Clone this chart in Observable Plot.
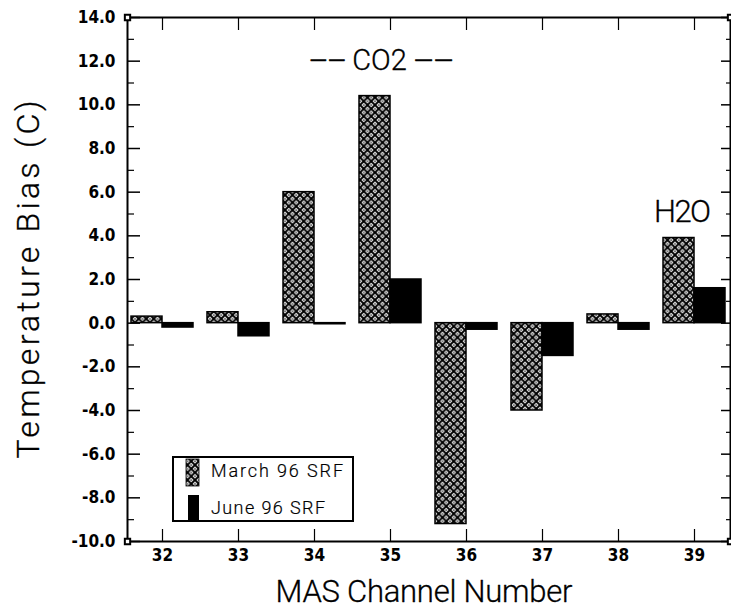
<!DOCTYPE html>
<html><head><meta charset="utf-8">
<script src="https://cdn.jsdelivr.net/npm/d3@7"></script>
<script src="https://cdn.jsdelivr.net/npm/@observablehq/plot@0.6"></script>
<style>body{margin:0;background:#fff}</style>
</head><body><div id="chart"></div>
<script>
const channels = ["32", "33", "34", "35", "36", "37", "38", "39"];
const march96 = [0.3, 0.5, 6.0, 10.4, -9.2, -4.0, 0.4, 3.9];
const june96 = [-0.2, -0.6, -0.05, 2.0, -0.3, -1.5, -0.3, 1.6];
const seriesNames = ["March 96 SRF", "June 96 SRF"];
const yMajorTicks = [-10, -8, -6, -4, -2, 0, 2, 4, 6, 8, 10, 12, 14];
const yMinorTicks = [-9, -7, -5, -3, -1, 1, 3, 5, 7, 9, 11, 13];
const co2Note = [{label: "--CO2--", channel: "35", value: 12.0}];
const h2oNote = [{label: "H2O", channel: "39", value: 5.1}];
const xTitle = "MAS Channel Number";
const yTitle = "Temperature Bias (C)";

const marchData = channels.map((c, i) => ({channel: c, value: march96[i]}));
const juneData = channels.map((c, i) => ({channel: c, value: june96[i]}));

const tickFont = "'DejaVu Sans Condensed', 'Liberation Sans Narrow', 'Liberation Sans', sans-serif";
const thinFont = "Roboto, 'DejaVu Sans', sans-serif";
const blank = () => "";
const thinText = {fontFamily: thinFont, fontWeight: 300, fill: "black", stroke: "black", strokeWidth: 0.3};

const plot = Plot.plot({
  width: 731, height: 614,
  marginLeft: 127, marginRight: 1, marginTop: 17, marginBottom: 73,
  style: {background: "white", color: "black"},
  x: {domain: channels, paddingInner: 0.184, paddingOuter: 0.055, axis: null},
  y: {domain: [-10, 14], axis: null},
  marks: [
    Plot.barY(marchData, {x: "channel", y: "value", insetRight: 31, fill: "url(#xhatch)", stroke: "black", strokeWidth: 1.5}),
    Plot.barY(juneData, {x: "channel", y: "value", insetLeft: 31, fill: "black", stroke: "black", strokeWidth: 1.5}),
    Plot.frame({stroke: "black", strokeWidth: 2}),
    Plot.axisY(yMajorTicks, {anchor: "left", label: null, tickSize: 0, tickPadding: 12, tickFormat: d => d.toFixed(1), fontSize: 17, fontWeight: "bold", fontFamily: tickFont}),
    Plot.axisY(yMajorTicks, {anchor: "left", label: null, tickSize: -13, tickFormat: blank, strokeWidth: 1.5}),
    Plot.axisY(yMinorTicks, {anchor: "left", label: null, tickSize: -7, tickFormat: blank, strokeWidth: 1.2}),
    Plot.axisY(yMajorTicks, {anchor: "right", label: null, tickSize: -10, tickFormat: blank, strokeWidth: 1.5}),
    Plot.axisY(yMinorTicks, {anchor: "right", label: null, tickSize: -5, tickFormat: blank, strokeWidth: 1.2}),
    Plot.axisX({anchor: "bottom", label: null, tickSize: 0, tickPadding: 7, fontSize: 17, fontWeight: "bold", fontFamily: tickFont}),
    Plot.axisX({anchor: "bottom", label: null, tickSize: -12, tickFormat: blank, strokeWidth: 1.2}),
    Plot.axisX({anchor: "top", label: null, tickSize: -12, tickFormat: blank, strokeWidth: 1.2}),
    Plot.text(co2Note, {x: "channel", y: "value", text: "label", dx: -9, fontSize: 29, ...thinText}),
    Plot.text(h2oNote, {x: "channel", y: "value", text: "label", dx: -12, fontSize: 31, ...thinText}),
    Plot.text([xTitle], {text: d => d, frameAnchor: "bottom", dy: 60, dx: -5, fontSize: 31, ...thinText}),
    Plot.text([yTitle], {text: d => d, frameAnchor: "left", textAnchor: "middle", dx: -99, rotate: -90, fontSize: 32, ...thinText}),
    Plot.dot([0], {frameAnchor: "top-left", symbol: "square", r: 3, fill: "white", stroke: "black", strokeWidth: 2}),
    Plot.dot([0], {frameAnchor: "bottom-left", symbol: "square", r: 3, fill: "white", stroke: "black", strokeWidth: 2}),
    Plot.dot([0], {frameAnchor: "top-right", symbol: "square", r: 3, fill: "white", stroke: "black", strokeWidth: 2}),
    Plot.dot([0], {frameAnchor: "bottom-right", symbol: "square", r: 3, fill: "white", stroke: "black", strokeWidth: 2})
  ]
});

const svg = d3.select(plot);
const defs = svg.insert("defs", ":first-child");
const P = 7.5;
const pat = defs.append("pattern").attr("id", "xhatch").attr("patternUnits", "userSpaceOnUse").attr("width", P).attr("height", P);
pat.append("rect").attr("width", P).attr("height", P).attr("fill", "white");
pat.append("path").attr("d", `M0,0L${P},${P}M${P},0L0,${P}`).attr("stroke", "black").attr("stroke-width", 2);
[[P / 2, 0], [P / 2, P], [0, P / 2], [P, P / 2]].forEach(([cx, cy]) => pat.append("circle").attr("cx", cx).attr("cy", cy).attr("r", 0.8).attr("fill", "black"));

// stretch title texts to the widths seen in the reference
const stretch = {[xTitle]: 297, [yTitle]: 358, "H2O": 57};
svg.selectAll("text").each(function () {
  const t = this.textContent;
  if (stretch[t]) d3.select(this).attr("textLength", stretch[t]).attr("lengthAdjust", "spacing");
  if (t === co2Note[0].label) {
    const el = d3.select(this);
    el.text(null);
    el.append("tspan").attr("textLength", 37).attr("lengthAdjust", "spacingAndGlyphs").text("--");
    el.append("tspan").attr("dx", 6).text("CO2");
    el.append("tspan").attr("dx", 7).attr("textLength", 40).attr("lengthAdjust", "spacingAndGlyphs").text("--");
  }
});

const lg = svg.append("g").attr("class", "legend");
lg.append("rect").attr("x", 173).attr("y", 457).attr("width", 180).attr("height", 64).attr("fill", "white").attr("stroke", "black").attr("stroke-width", 2);
lg.append("rect").attr("x", 186).attr("y", 459).attr("width", 13).attr("height", 27).attr("fill", "url(#xhatch)").attr("stroke", "black").attr("stroke-width", 0.8);
lg.append("rect").attr("x", 188).attr("y", 495).attr("width", 11).attr("height", 25).attr("fill", "black");
const legendWidths = [132, 114];
seriesNames.forEach((name, i) => {
  lg.append("text").attr("x", 211).attr("y", i === 0 ? 471 : 508).attr("dy", "0.35em")
    .attr("text-anchor", "start").attr("font-family", thinFont).attr("font-weight", 300)
    .attr("font-size", 18).attr("textLength", legendWidths[i]).attr("lengthAdjust", "spacing")
    .attr("fill", "black").attr("stroke", "black").attr("stroke-width", 0.2).text(name);
});

document.getElementById("chart").appendChild(plot);
</script>
</body></html>
